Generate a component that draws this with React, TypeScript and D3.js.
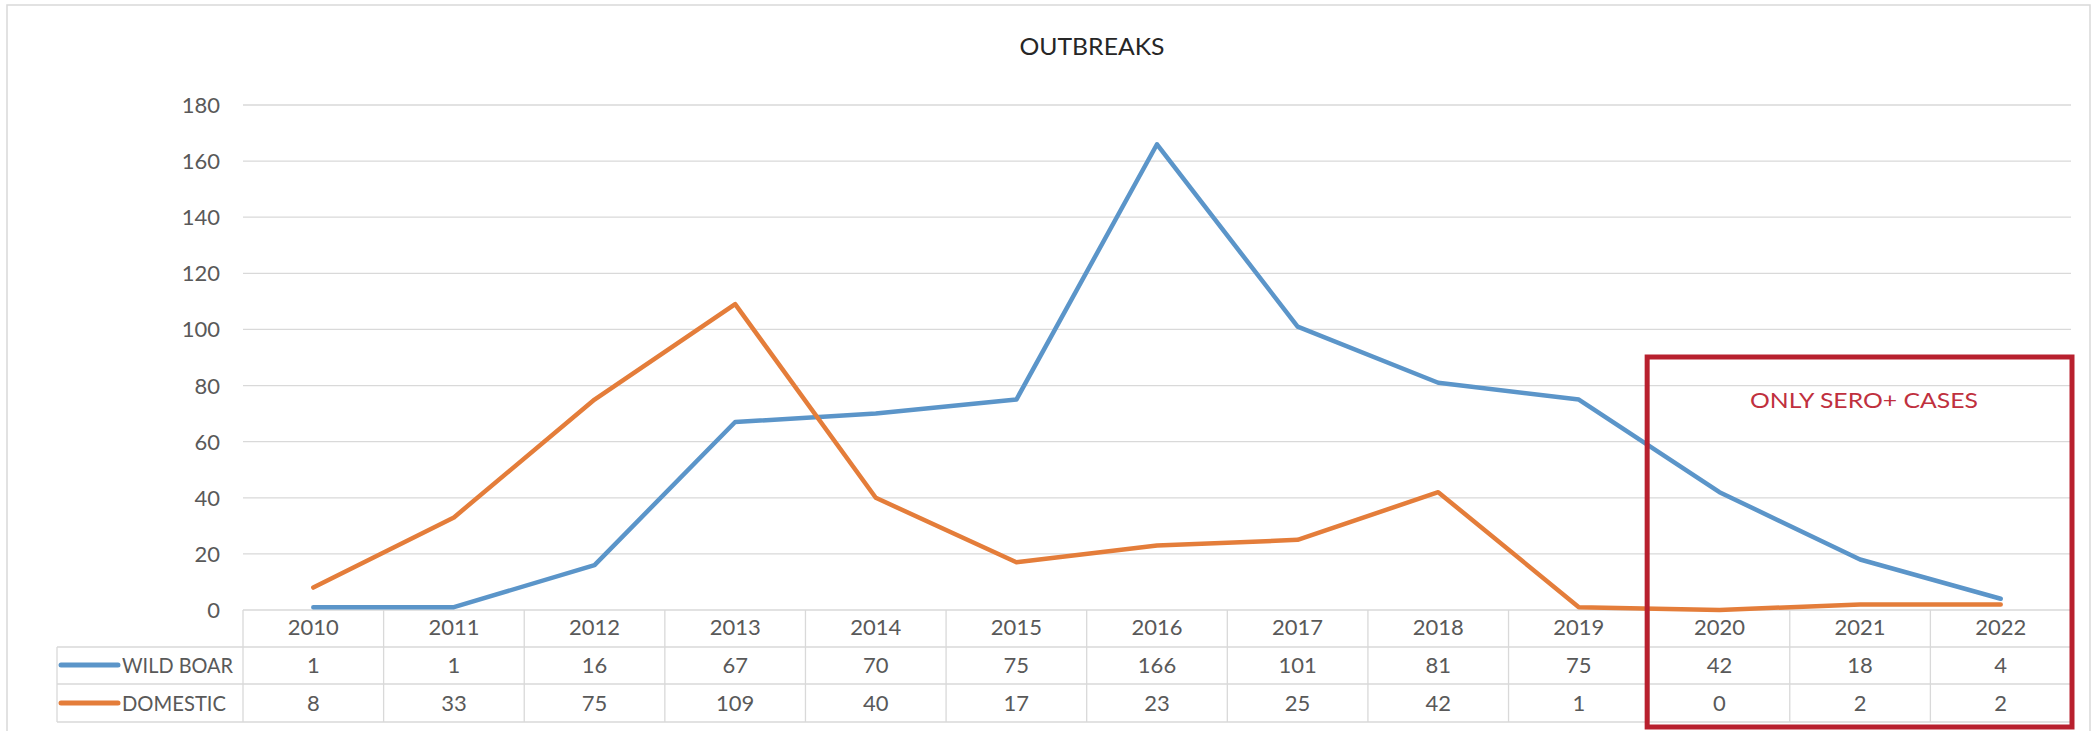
import React from "react";
import * as d3 from "d3";

const years = ["2010","2011","2012","2013","2014","2015","2016","2017","2018","2019","2020","2021","2022"];
const wildBoar = [1,1,16,67,70,75,166,101,81,75,42,18,4];
const domestic = [8,33,75,109,40,17,23,25,42,1,0,2,2];
const yTicks = [0,20,40,60,80,100,120,140,160,180];
const seriesNames = ["WILD BOAR","DOMESTIC"];
const titleText = "OUTBREAKS";
const noteText = "ONLY SERO+ CASES";
const noteYears = ["2020","2022"];

const W = 2096, H = 731;
const FONT = "Lato, 'Open Sans', sans-serif";
const BLUE = "#5b95c9";
const ORANGE = "#e47d3a";
const GRID = "#d9d9d9";
const TXT = "#595959";

export default function App() {
  const x = d3.scaleBand<string>().domain(years).range([243, 2071]).padding(0);
  const y = d3.scaleLinear().domain([0, 180]).range([610, 105]);
  const cx = (yr: string) => (x(yr) as number) + x.bandwidth() / 2;
  const line = d3.line<number>().x((_, i) => cx(years[i])).y(d => y(d));

  const rowTop = [610, 647, 684, 722];
  const tableLeft = 57;
  const series = [
    { name: seriesNames[0], values: wildBoar, color: BLUE },
    { name: seriesNames[1], values: domestic, color: ORANGE },
  ];

  const boxL = (x(noteYears[0]) as number) - 2;
  const boxR = (x(noteYears[1]) as number) + x.bandwidth() + 1;

  return (
    <svg width={W} height={H} style={{ position: "absolute", left: 0, top: 0, background: "#fff" }}
      fontFamily={FONT}>
      <rect x={0} y={0} width={W} height={H} fill="#fff" />
      <rect x={7} y={5} width={2083} height={740} fill="none" stroke={GRID} strokeWidth={1.5} />

      <text x={1092} y={55} textAnchor="middle" fontSize={23} fill="#262626"
        textLength={145} lengthAdjust="spacingAndGlyphs">{titleText}</text>

      {yTicks.map(t => (
        <g key={t}>
          <line x1={243} x2={2071} y1={y(t)} y2={y(t)} stroke={GRID} strokeWidth={1.3} />
          <text x={220} y={y(t) + 8} textAnchor="end" fontSize={22} fill={TXT}>{t}</text>
        </g>
      ))}

      {rowTop.slice(1).map((r, i) => (
        <line key={"h" + i} x1={tableLeft} x2={2071} y1={r} y2={r} stroke={GRID} strokeWidth={1.3} />
      ))}
      <line x1={tableLeft} x2={tableLeft} y1={647} y2={722} stroke={GRID} strokeWidth={1.3} />
      {years.map(yr => (
        <line key={"v" + yr} x1={x(yr) as number} x2={x(yr) as number} y1={610} y2={722} stroke={GRID} strokeWidth={1.3} />
      ))}
      <line x1={2071} x2={2071} y1={610} y2={722} stroke={GRID} strokeWidth={1.3} />

      {years.map(yr => (
        <text key={"yr" + yr} x={cx(yr)} y={635} textAnchor="middle" fontSize={22} fill={TXT}>{yr}</text>
      ))}
      {series.map((s, si) => (
        <g key={s.name}>
          <line x1={61} x2={118} y1={665 + si * 38} y2={665 + si * 38} stroke={s.color} strokeWidth={5} strokeLinecap="round" />
          <text x={122} y={673 + si * 38} fontSize={22} fill={TXT}
            textLength={si === 0 ? 111 : 104} lengthAdjust="spacingAndGlyphs">{s.name}</text>
          {s.values.map((v, i) => (
            <text key={i} x={cx(years[i])} y={673 + si * 38} textAnchor="middle" fontSize={22} fill={TXT}>{v}</text>
          ))}
        </g>
      ))}

      {series.map(s => (
        <path key={"l" + s.name} d={line(s.values) || ""} fill="none" stroke={s.color} strokeWidth={4.5}
          strokeLinejoin="round" strokeLinecap="round" />
      ))}

      <rect x={boxL} y={357} width={boxR - boxL} height={370} fill="none" stroke="#b8202e" strokeWidth={5} />
      <text x={1864} y={408} textAnchor="middle" fontSize={22} fill="#c0303e"
        textLength={228} lengthAdjust="spacingAndGlyphs">{noteText}</text>
    </svg>
  );
}
